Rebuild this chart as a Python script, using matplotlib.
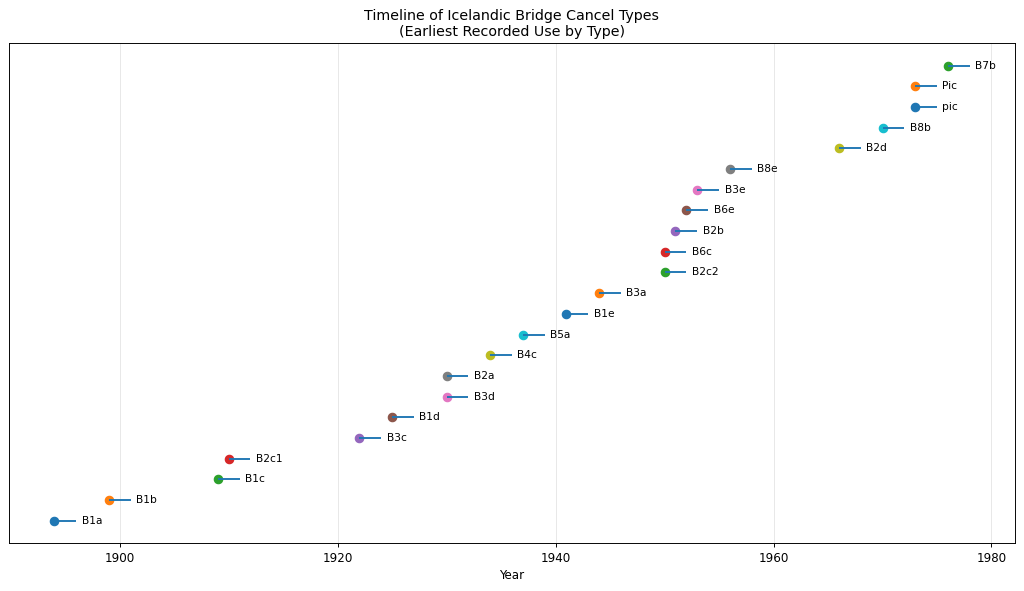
import matplotlib
matplotlib.use("Agg")
import matplotlib.pyplot as plt

types = ["B1a", "B1b", "B1c", "B2c1", "B3c", "B1d", "B3d", "B2a", "B4c", "B5a",
         "B1e", "B3a", "B2c2", "B6c", "B2b", "B6e", "B3e", "B8e", "B2d", "B8b",
         "pic", "Pic", "B7b"]
years = [1894, 1899, 1909, 1910, 1922, 1925, 1930, 1930, 1934, 1937,
         1941, 1944, 1950, 1950, 1951, 1952, 1953, 1956, 1966, 1970,
         1973, 1973, 1976]
seg_len = 2

dpi = 1024 / 12
fig, ax = plt.subplots(figsize=(12, 591 / dpi), dpi=dpi)
for i, (t, yr) in enumerate(zip(types, years)):
    ax.scatter(yr, i, s=50, zorder=2)
    ax.hlines(i, yr, yr + seg_len, colors="#1f77b4", linewidth=1.6, zorder=3)
    ax.text(yr + 2.5, i, t, va="center", ha="left", fontsize=9)

ax.set_yticks([])
ax.set_xlabel("Year")
ax.set_title("Timeline of Icelandic Bridge Cancel Types\n(Earliest Recorded Use by Type)")
ax.grid(axis="x", alpha=0.3)
ax.set_axisbelow(True)
fig.tight_layout(pad=0.72)
fig.savefig("out.png", dpi=dpi)
